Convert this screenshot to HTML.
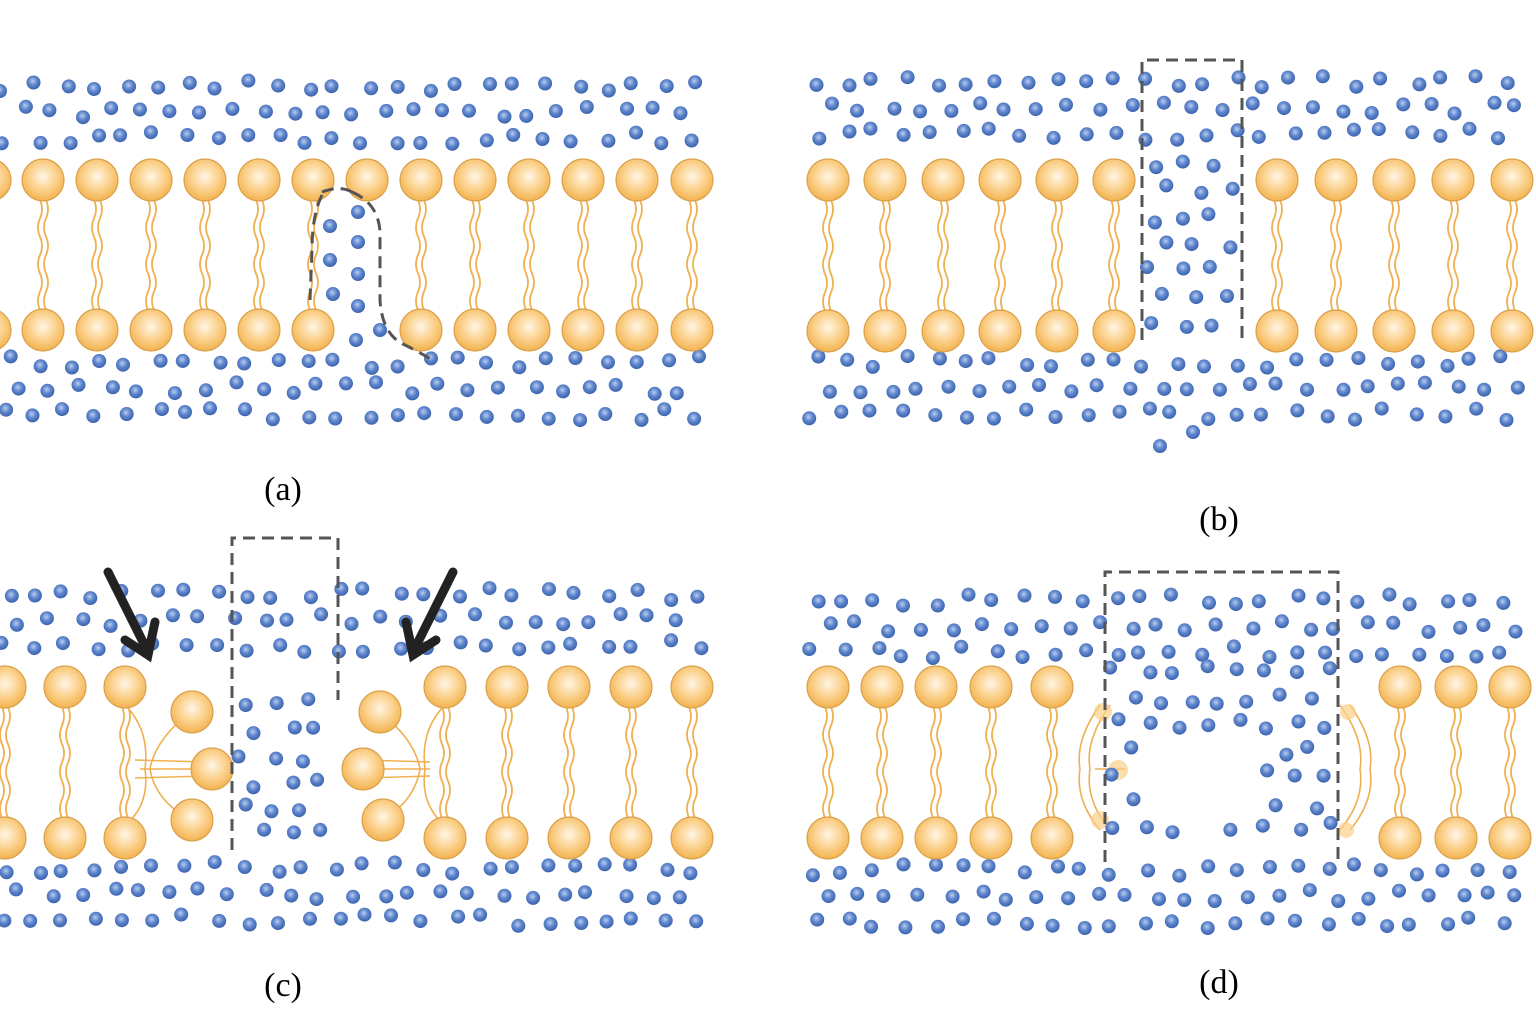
<!DOCTYPE html>
<html><head><meta charset="utf-8"><style>
html,body{margin:0;padding:0;background:#fff;width:1536px;height:1024px;overflow:hidden}
svg{display:block}
text{font-family:"Liberation Serif",serif;font-size:34px;fill:#000}
</style></head><body>
<svg id="s" width="1536" height="1024" viewBox="0 0 1536 1024" xmlns="http://www.w3.org/2000/svg">
<defs>
<radialGradient id="hg" cx="0.5" cy="0.42" r="0.6">
<stop offset="0" stop-color="#fff6e6"/><stop offset="0.55" stop-color="#fbd08a"/><stop offset="1" stop-color="#f2b04a"/>
</radialGradient>
<radialGradient id="wg" cx="0.45" cy="0.4" r="0.6">
<stop offset="0" stop-color="#b9cdf0"/><stop offset="0.5" stop-color="#5f86cc"/><stop offset="1" stop-color="#3a62ae"/>
</radialGradient>
</defs>
<g id="tails"></g>
<g fill="none" stroke="#f0b050" stroke-width="1.6">
<path d="M125,705 Q150,730 145,769 Q150,805 125,825 M190,712 Q155,740 150,769 Q155,800 190,820 M212,769 L140,769 M135,760 L205,762 M135,778 L205,776"/>
<path d="M445,705 Q420,730 425,769 Q420,805 445,825 M380,712 Q415,740 420,769 Q415,800 383,820 M363,769 L430,769 M365,760 L430,762 M365,778 L430,776"/>
<path d="M1100,705 Q1075,740 1080,769 Q1075,800 1100,830 M1110,705 Q1085,740 1090,769 Q1085,800 1110,830 M1095,769 L1125,769"/>
<path d="M1350,705 Q1375,740 1370,769 Q1375,800 1350,830 M1340,705 Q1365,740 1360,769 Q1365,800 1340,830"/>
</g>
<g fill="#fbd08a" opacity="0.7"><circle cx="1103" cy="712" r="9"/><circle cx="1118" cy="770" r="10"/><circle cx="1100" cy="820" r="9"/><circle cx="1348" cy="712" r="8"/><circle cx="1346" cy="830" r="8"/></g>
<g id="water"></g>
<g id="heads"></g>
<g fill="none" stroke="#555" stroke-width="3" stroke-dasharray="12 7">
<path d="M322,192 Q340,185 352,192 M352,192 Q382,205 380,240 L380,300 Q382,335 405,345 Q425,355 435,362"/>
<path d="M322,195 Q312,215 312,250 L310,300"/>
<path d="M1142,340 L1142,60 L1242,60 L1242,340"/>
<path d="M232,850 L232,538 L338,538 L338,700" />
<path d="M1105,862 L1105,572 L1338,572 L1338,862"/>
</g>
<g stroke="#222" stroke-width="9" fill="none" stroke-linecap="round">
<path d="M108,572 L148,652 M125,640 L148,655 L155,622"/>
<path d="M453,572 L413,652 M436,640 L413,655 L406,622"/>
</g>
<text x="283" y="500" text-anchor="middle">(a)</text>
<text x="1219" y="530" text-anchor="middle">(b)</text>
<text x="283" y="996" text-anchor="middle">(c)</text>
<text x="1219" y="993" text-anchor="middle">(d)</text>
</svg>
<script>
var NS="http://www.w3.org/2000/svg";
var seed=7;function rnd(){seed=(seed*16807)%2147483647;return (seed-1)/2147483646;}
function el(g,t,a){var e=document.createElementNS(NS,t);for(var k in a)e.setAttribute(k,a[k]);document.getElementById(g).appendChild(e);}
function head(x,y){el("heads","circle",{cx:x,cy:y,r:21,fill:"url(#hg)",stroke:"#d9a04a","stroke-width":1.2});}
function tail(x,y1,y2){for(var d=-3;d<=3;d+=6){var p="M"+(x+d)+","+(y1+20);var n=6,h=(y2-y1-40)/n;for(var i=1;i<=n;i++){p+=" Q"+(x+d+(i%2?4:-4))+","+(y1+20+h*(i-0.5))+" "+(x+d)+","+(y1+20+h*i);}
el("tails","path",{d:p,fill:"none",stroke:"#f0b050","stroke-width":1.8});}}
function lipid(x,yt,yb,top,bot){if(top!==false)head(x,yt);if(bot!==false)head(x,yb);tail(x,yt,yb);}
function dot(x,y){el("water","circle",{cx:x.toFixed(1),cy:y.toFixed(1),r:7,fill:"url(#wg)"});}
function water(x0,x1,y0,y1,s,skip){s=s||30;var row=0;for(var y=y0;y<=y1;y+=s*0.87,row++){for(var x=x0+(row%2?s/2:0);x<=x1;x+=s){var px=x+(rnd()-0.5)*12,py=y+(rnd()-0.5)*12;if(skip&&skip(px,py))continue;dot(px,py);}}}
// (a)
[-10,43,97,151,205,259,313,421,475,529,583,637,692].forEach(function(x){lipid(x,180,330);});
head(367,180);
water(6,706,86,150);water(6,708,362,428);
[[330,226],[358,212],[358,242],[330,260],[358,274],[333,294],[358,306],[356,340],[380,330]].forEach(function(p){dot(p[0],p[1]);});
// (b)
[828,885,943,1000,1057,1114,1277,1336,1394,1453,1512].forEach(function(x){lipid(x,180,331);});
water(814,1532,82,150);water(814,1532,362,428);
water(1152,1232,165,335,30);dot(1160,446);dot(1193,432);
// (c)
[5,65,125,445,507,569,631,692].forEach(function(x){lipid(x,687,838);});
[[192,712],[212,769],[192,820],[380,712],[363,769],[383,820]].forEach(function(p){head(p[0],p[1]);});
water(6,706,594,660);water(6,706,868,930);water(244,326,705,845,30);
// (d)
[828,882,936,991,1052,1400,1456,1510].forEach(function(x){lipid(x,687,838);});
water(814,1532,600,660);water(814,1532,870,930);
water(1116,1330,672,852,30,function(x,y){return (x-1200)*(x-1200)+(y-780)*(y-780)<55*55;});
</script>
</body></html>
